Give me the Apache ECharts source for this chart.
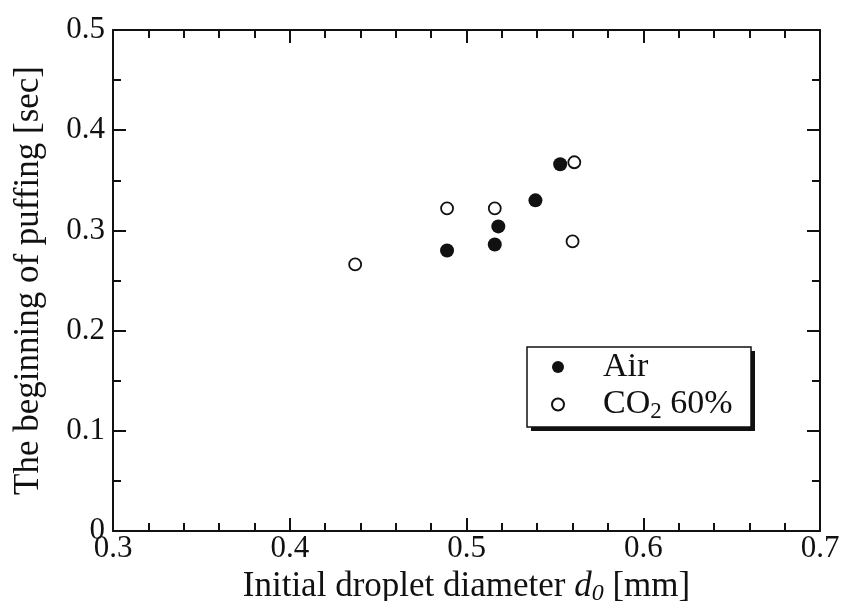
<!DOCTYPE html>
<html>
<head>
<meta charset="utf-8">
<script src="https://cdn.jsdelivr.net/npm/echarts@6/dist/echarts.min.js"></script>
<style>
  html, body { margin: 0; padding: 0; background: #fff; }
  #chart { width: 842px; height: 601px; }
</style>
</head>
<body>
<div id="chart"></div>
<script>
// Initial droplet diameter d0 [mm] and onset time of puffing [sec]
const airDiameter = [0.489, 0.516, 0.518, 0.539, 0.553];
const airPuffing  = [0.280, 0.286, 0.304, 0.330, 0.366];
const co2Diameter = [0.437, 0.489, 0.516, 0.560, 0.561];
const co2Puffing  = [0.266, 0.322, 0.322, 0.289, 0.368];

const seriesNames = ['Air', 'CO2 60%'];
const xTicks = [0.3, 0.4, 0.5, 0.6, 0.7];
const yTicks = [0, 0.1, 0.2, 0.3, 0.4, 0.5];

const FONT = "'Liberation Serif', 'Times New Roman', serif";
const INK = '#111';

const pairs = (xs, ys) => xs.map((x, i) => [x, ys[i]]);

// shared frame styling: inward major and minor ticks on all four sides
function frame(extra) {
  return Object.assign({
    axisLine: { show: true, onZero: false, lineStyle: { color: INK, width: 2 } },
    axisTick: { show: true, inside: true, length: 13, lineStyle: { color: INK, width: 2 } },
    splitLine: { show: false }
  }, extra);
}
const minor = n => ({ show: true, splitNumber: n, length: 8, lineStyle: { color: INK, width: 2 } });

const chart = echarts.init(document.getElementById('chart'), null, { renderer: 'canvas' });

chart.setOption({
  animation: false,
  backgroundColor: '#fff',
  textStyle: { fontFamily: FONT },
  grid: { left: 113, top: 30, right: 22, bottom: 70, containLabel: false, outerBoundsMode: 'none' },
  xAxis: [
    frame({
      type: 'value', min: xTicks[0], max: xTicks[xTicks.length - 1], interval: 0.1,
      position: 'bottom',
      minorTick: minor(5),
      axisLabel: {
        color: INK, fontFamily: FONT, fontSize: 31, margin: 2,
        formatter: v => v.toFixed(1)
      },
      name: 'Initial droplet diameter {i|d}{s|0} [mm]',
      nameLocation: 'middle', nameGap: 34,
      nameTextStyle: {
        color: INK, fontFamily: FONT, fontSize: 35,
        rich: {
          i: { fontFamily: FONT, fontSize: 35, fontStyle: 'italic', color: INK },
          s: { fontFamily: FONT, fontSize: 24, fontStyle: 'italic', color: INK, padding: [14, 0, 0, 0] }
        }
      }
    }),
    frame({
      type: 'value', min: xTicks[0], max: xTicks[xTicks.length - 1], interval: 0.1,
      position: 'top',
      minorTick: minor(5),
      axisLabel: { show: false }
    })
  ],
  yAxis: [
    frame({
      type: 'value', min: yTicks[0], max: yTicks[yTicks.length - 1], interval: 0.1,
      position: 'left',
      minorTick: minor(2),
      axisLabel: {
        color: INK, fontFamily: FONT, fontSize: 31, margin: 8,
        formatter: v => (v === 0 ? '0' : v.toFixed(1))
      },
      name: 'The beginning of puffing [sec]',
      nameLocation: 'middle', nameGap: 67, nameRotate: 90,
      nameTextStyle: { color: INK, fontFamily: FONT, fontSize: 35 }
    }),
    frame({
      type: 'value', min: yTicks[0], max: yTicks[yTicks.length - 1], interval: 0.1,
      position: 'right',
      minorTick: minor(2),
      axisLabel: { show: false }
    })
  ],
  graphic: [
    // legend frame with drop shadow
    { type: 'rect', z: 1, shape: { x: 531, y: 351, width: 224, height: 80 }, style: { fill: INK } },
    { type: 'rect', z: 2, shape: { x: 527, y: 347, width: 224, height: 80 }, style: { fill: '#fff', stroke: INK, lineWidth: 1.5 } }
  ],
  legend: {
    z: 10,
    left: 546, top: 345,
    orient: 'vertical',
    itemWidth: 12, itemHeight: 12, itemGap: 2,
    selectedMode: false,
    data: [
      { name: seriesNames[0], icon: 'circle' },
      { name: seriesNames[1], icon: 'circle' }
    ],
    formatter: name => '{g|}' + (name === seriesNames[1] ? '{a|CO}{s|2}{a| 60%}' : '{a|' + name + '}'),
    textStyle: {
      color: INK, fontFamily: FONT, fontSize: 34,
      rich: {
        g: { width: 34, lineHeight: 34 },
        a: { fontFamily: FONT, fontSize: 34, color: INK, lineHeight: 34 },
        s: { fontFamily: FONT, fontSize: 23, color: INK, lineHeight: 34, padding: [14, 0, 0, 0] }
      }
    }
  },
  series: [
    {
      name: seriesNames[0], type: 'scatter', xAxisIndex: 0, yAxisIndex: 0,
      symbol: 'circle', symbolSize: 14,
      itemStyle: { color: INK, borderColor: INK, borderWidth: 0, opacity: 1 },
      data: pairs(airDiameter, airPuffing)
    },
    {
      name: seriesNames[1], type: 'scatter', xAxisIndex: 0, yAxisIndex: 0,
      symbol: 'circle', symbolSize: 12,
      itemStyle: { color: '#fff', borderColor: INK, borderWidth: 1.8, opacity: 1 },
      data: pairs(co2Diameter, co2Puffing)
    }
  ]
});
</script>
</body>
</html>
